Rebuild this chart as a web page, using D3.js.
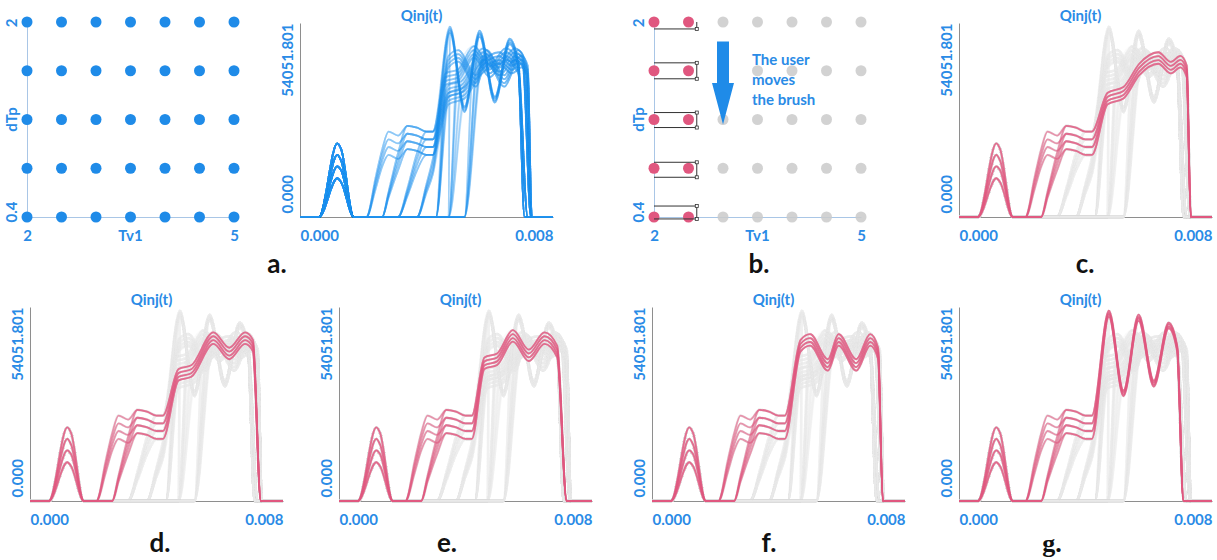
<!DOCTYPE html>
<html>
<head>
<meta charset="utf-8">
<script src="https://cdn.jsdelivr.net/npm/d3@7"></script>
<style>
    body { margin: 0; background: #fff; }
    text { font-family: Lato, "Open Sans", sans-serif; font-weight: bold; }
</style>
</head>
<body>
<svg id="fig" width="1217" height="560"></svg>
<script>
// parameter grid
const tv1Values = [2, 2.5, 3, 3.5, 4, 4.5, 5];
const dtpValues = [0.4, 0.8, 1.2, 1.6, 2];
const tv1Ticks = [2, 5];
const dtpTicks = [0.4, 2];
const timeTicks = [0, 0.008];
const Q_MAX = 54051.801;

// brush (panel b)
const brushedTv1 = [2, 2.5];
const brushTv1Range = [2, 2.62];
const brushDtpRanges = [[1.943, 2.06], [1.534, 1.665], [1.134, 1.257], [0.726, 0.849], [0.384, 0.49]];

// Qinj(t) curves, values in thousands. 4 runs per (Tv1, dTp)
// first pulse, same for every Tv1 / dTp
const tBump = [0, 0.0006, 0.00118, 0.0013, 0.0017];
const bumpRuns = [
    [0, 0, 20.5, 18.9, 0],
    [0, 0, 17.3, 15.7, 0],
    [0, 0, 14.1, 13.0, 0],
    [0, 0, 10.8, 9.7, 0]
];

// plateau, depends on Tv1
const tPlateau = [0.0021, 0.0024, 0.0026, 0.0028, 0.0031, 0.0034, 0.0037, 0.0040, 0.0042];
const plateauTv1_2 = [
    [0, 11.4, 18.9, 23.8, 22.7, 25.4, 24.9, 23.8, 23.8],
    [0, 10.3, 17.3, 21.6, 20.5, 23.2, 22.7, 21.6, 21.6],
    [0, 9.2, 15.7, 19.5, 18.4, 21.1, 20.5, 19.5, 19.5],
    [0, 8.1, 14.1, 17.3, 16.2, 18.9, 18.4, 17.3, 17.3]
];
const plateauTv1_25 = [
    [0, 0, 0, 7.0, 17.8, 25.4, 24.9, 23.8, 23.8],
    [0, 0, 0, 6.5, 16.2, 23.2, 22.7, 21.6, 21.6],
    [0, 0, 0, 5.9, 14.6, 21.1, 20.5, 19.5, 19.5],
    [0, 0, 0, 5.4, 13.0, 18.9, 18.4, 17.3, 17.3]
];
const plateauTv1_3 = [
    [0, 0, 0, 0, 0, 8.1, 17.8, 23.8, 23.8],
    [0, 0, 0, 0, 0, 7.3, 16.2, 21.6, 21.6],
    [0, 0, 0, 0, 0, 6.5, 14.6, 19.5, 19.5],
    [0, 0, 0, 0, 0, 5.9, 13.0, 17.3, 17.3]
];
const plateauTv1_35 = [
    [0, 0, 0, 0, 0, 0, 0, 9.2, 16.2],
    [0, 0, 0, 0, 0, 0, 0, 8.4, 14.6],
    [0, 0, 0, 0, 0, 0, 0, 7.6, 13.0],
    [0, 0, 0, 0, 0, 0, 0, 6.8, 11.9]
];
// Tv1 >= 4 has no plateau, the flow starts late
const lateOnset = [null, null, null, null, 0.0043, 0.0047, 0.0052];

// main injection, depends on dTp
const tLate_04 = [0.00474, 0.0052, 0.00568, 0.00616, 0.00663, 0.0069, 0.0071, 0.008];
const lateDtp_04 = [
    [53.0, 30.8, 51.9, 33.5, 49.7, 43.2, 0, 0],
    [52.4, 30.3, 51.3, 33.0, 49.2, 42.7, 0, 0],
    [51.9, 29.7, 50.8, 32.4, 48.6, 42.2, 0, 0],
    [51.3, 29.2, 50.2, 31.9, 48.1, 41.6, 0, 0]
];
const tLate_08 = [0.0047, 0.0050, 0.00556, 0.0059, 0.00646, 0.0069, 0.00715, 0.0073, 0.008];
const lateDtp_08 = [
    [44.9, 46.5, 39.5, 46.5, 39.5, 46.5, 42.7, 0, 0],
    [43.8, 45.4, 38.4, 45.4, 38.4, 45.4, 41.6, 0, 0],
    [42.7, 44.3, 37.3, 44.3, 37.3, 44.3, 40.5, 0, 0],
    [41.7, 43.3, 36.3, 43.3, 36.3, 43.3, 39.5, 0, 0]
];
const tLate_12 = [0.0046, 0.0050, 0.0055, 0.0060, 0.0065, 0.0069, 0.0072, 0.008];
const lateDtp_12 = [
    [40.0, 41.1, 47.6, 42.2, 47.0, 43.2, 0, 0],
    [38.9, 40.0, 46.5, 41.1, 45.9, 42.1, 0, 0],
    [37.8, 38.9, 45.4, 40.0, 44.8, 41.0, 0, 0],
    [36.8, 37.9, 44.4, 39.0, 43.8, 40.0, 0, 0]
];
const tLate_16 = [0.0047, 0.0051, 0.0058, 0.0063, 0.0068, 0.00705, 0.0073, 0.008];
const lateDtp_16 = [
    [36.8, 37.8, 47.0, 42.7, 47.0, 44.9, 0, 0],
    [35.7, 36.7, 45.9, 41.6, 45.9, 43.8, 0, 0],
    [34.6, 35.6, 44.8, 40.5, 44.8, 42.7, 0, 0],
    [33.6, 34.6, 43.8, 39.5, 43.8, 41.7, 0, 0]
];
const tLate_20 = [0.0047, 0.0052, 0.0057, 0.0063, 0.0067, 0.0070, 0.0072, 0.00733, 0.008];
const lateDtp_20 = [
    [34.6, 36.2, 42.7, 45.9, 43.2, 44.9, 42.2, 0, 0],
    [33.5, 35.1, 41.6, 44.8, 42.1, 43.8, 41.1, 0, 0],
    [32.4, 34.0, 40.5, 43.7, 41.0, 42.7, 40.0, 0, 0],
    [31.4, 33.0, 39.5, 42.7, 40.0, 41.7, 39.0, 0, 0]
];

const plateauByTv1 = [plateauTv1_2, plateauTv1_25, plateauTv1_3, plateauTv1_35, null, null, null];
const lateTimes = [tLate_04, tLate_08, tLate_12, tLate_16, tLate_20];
const lateValues = [lateDtp_04, lateDtp_08, lateDtp_12, lateDtp_16, lateDtp_20];

const blue = "#1f8be8", textBlue = "#2a8be6", pink = "#e0577f";

// put one curve together from its pieces
function buildCurve(ti, di, r) {
    let pts = tBump.map((t, k) => [t, bumpRuns[r][k]]);
    let plat = plateauByTv1[ti];
    let onset = lateOnset[ti];
    if (plat) {
        tPlateau.forEach((t, k) => pts.push([t, plat[r][k]]));
    } else {
        pts.push([onset, 0]);
    }
    lateTimes[di].forEach((t, k) => {
        if (onset === null || t > onset) pts.push([t, lateValues[di][r][k]]);
    });
    return pts;
}

let curves = [];
tv1Values.forEach((tv1, ti) => {
    dtpValues.forEach((dtp, di) => {
        d3.range(4).forEach(r => {
            curves.push({tv1: tv1, dtp: dtp, pts: buildCurve(ti, di, r)});
        });
    });
});

let svg = d3.select('#fig');

// ---------- scatter panels ----------
function scatter(x0, brushed) {
    let sx = d3.scaleLinear().domain([2, 5]).range([x0, x0 + 207]);
    let sy = d3.scaleLinear().domain([0.4, 2]).range([217, 22]);
    let g = svg.append('g');

    let xa = g.append('g').attr('transform', 'translate(0,217)')
        .call(d3.axisBottom(sx).tickValues(tv1Ticks).tickFormat(d3.format('d')).tickSize(0).tickPadding(13).tickSizeOuter(0));
    let ya = g.append('g').attr('transform', `translate(${x0},0)`)
        .call(d3.axisLeft(sy).tickValues(dtpTicks).tickFormat(d => d).tickSize(0).tickSizeOuter(0));
    [xa, ya].forEach(a => {
        a.attr('font-family', null).attr('font-size', null);
        a.select('.domain').attr('stroke', '#a9c6e6');
        a.selectAll('text').attr('fill', textBlue).style('font-size', '15px');
    });
    ya.selectAll('text')
        .attr('transform', 'rotate(-90)')
        .attr('dy', null)
        .attr('y', -10)
        .attr('x', (d, i) => i === 0 ? -5 : 4)
        .attr('text-anchor', (d, i) => i === 0 ? 'start' : 'end');

    g.append('text').attr('x', sx(3.5)).attr('y', 241).attr('text-anchor', 'middle')
        .attr('fill', textBlue).style('font-size', '15px').text('Tv1');
    g.append('text').attr('transform', `translate(${x0 - 10},${sy(1.2)}) rotate(-90)`)
        .attr('text-anchor', 'middle').attr('fill', textBlue).style('font-size', '15px').text('dTp');

    let pts = [];
    dtpValues.forEach(dtp => tv1Values.forEach(tv1 => pts.push({tv1: tv1, dtp: dtp})));
    g.selectAll('circle').data(pts).enter().append('circle')
        .attr('cx', d => sx(d.tv1))
        .attr('cy', d => sy(d.dtp))
        .attr('r', 5.5)
        .attr('fill', d => !brushed ? blue : (brushedTv1.indexOf(d.tv1) >= 0 ? pink : '#cacaca'))
        .attr('opacity', d => (brushed && brushedTv1.indexOf(d.tv1) < 0) ? 0.85 : 1);
    return {sx: sx, sy: sy, g: g};
}

scatter(27, false);
let sb = scatter(654, true);

// brush trail
svg.append('clipPath').attr('id', 'bclip').append('rect')
    .attr('x', 640).attr('y', sb.sy(2)).attr('width', 240).attr('height', 210);
let bg = svg.append('g').attr('clip-path', 'url(#bclip)');
brushDtpRanges.forEach(rg => {
    let x1 = sb.sx(brushTv1Range[0]), x2 = sb.sx(brushTv1Range[1]);
    let yt = sb.sy(rg[1]), yb = sb.sy(rg[0]);
    bg.append('path')
        .attr('d', `M${x1},${yt}H${x2}V${yb}H${x1}`)
        .attr('fill', 'none').attr('stroke', '#333').attr('stroke-width', 1);
    [yt, yb].forEach(yy => {
        bg.append('rect').attr('x', x2 - 1.5).attr('y', yy - 1.5).attr('width', 3).attr('height', 3)
            .attr('fill', '#fff').attr('stroke', '#333').attr('stroke-width', 0.8);
    });
});

// arrow + note
let ax = sb.sx(3), aTop = sb.sy(1.84), aHead = sb.sy(1.5), aTip = sb.sy(1.16);
svg.append('path')
    .attr('d', `M${ax - 6},${aTop}H${ax + 6}V${aHead}H${ax + 11}L${ax},${aTip}L${ax - 11},${aHead}H${ax - 6}Z`)
    .attr('fill', blue);
['The user', 'moves', 'the brush'].forEach((s, i) => {
    svg.append('text').attr('x', sb.sx(3.42)).attr('y', 65 + i * 20)
        .attr('fill', textBlue).style('font-size', '15px').text(s);
});

// ---------- Qinj(t) panels ----------
const W = 253, H = 194;
const linePanels = [
    {x: 300, y: 23, dtp: null},
    {x: 959, y: 23, dtp: 2},
    {x: 30, y: 307, dtp: 1.6},
    {x: 339, y: 307, dtp: 1.2},
    {x: 652, y: 307, dtp: 0.8},
    {x: 959, y: 307, dtp: 0.4}
];

let x = d3.scaleLinear().domain([0, 0.008]).range([0, W]);
let y = d3.scaleLinear().domain([0, Q_MAX / 1000]).range([H, 0]);
let line = d3.line().x(d => x(d[0])).y(d => y(d[1])).curve(d3.curveMonotoneX);

linePanels.forEach(p => {
    let g = svg.append('g').attr('transform', `translate(${p.x},${p.y})`);

    let xa = g.append('g').attr('transform', `translate(0,${H})`)
        .call(d3.axisBottom(x).tickValues(timeTicks).tickFormat(d3.format('.3f')).tickSize(0).tickPadding(13).tickSizeOuter(0));
    let ya = g.append('g')
        .call(d3.axisLeft(y).tickValues([0, Q_MAX / 1000]).tickFormat(d => d3.format('.3f')(d * 1000)).tickSize(0).tickSizeOuter(0));
    [xa, ya].forEach(a => {
        a.attr('font-family', null).attr('font-size', null);
        a.select('.domain').attr('stroke', '#8e8e8e');
        a.selectAll('text').attr('fill', textBlue).style('font-size', '15px');
    });
    xa.selectAll('text').attr('text-anchor', (d, i) => i === 0 ? 'start' : 'end');
    ya.selectAll('text')
        .attr('transform', 'rotate(-90)')
        .attr('dy', null)
        .attr('y', -7)
        .attr('x', (d, i) => i === 0 ? 4 : 0)
        .attr('text-anchor', (d, i) => i === 0 ? 'start' : 'end');

    g.append('text').attr('x', W / 2 - 5).attr('y', -2).attr('text-anchor', 'middle')
        .attr('fill', textBlue).style('font-size', '15px').text('Qinj(t)');

    if (p.dtp === null) {
        g.selectAll('path.c').data(curves).enter().append('path')
            .attr('class', 'c').attr('d', d => line(d.pts))
            .attr('fill', 'none').attr('stroke', '#2196f3').attr('stroke-opacity', 0.13).attr('stroke-width', 1.8);
    } else {
        let isSel = d => d.dtp === p.dtp && brushedTv1.indexOf(d.tv1) >= 0;
        g.selectAll('path.o').data(curves.filter(d => !isSel(d))).enter().append('path')
            .attr('class', 'o').attr('d', d => line(d.pts))
            .attr('fill', 'none').attr('stroke', '#e6e6e6').attr('stroke-opacity', 0.22).attr('stroke-width', 2.5);
        g.selectAll('path.s').data(curves.filter(isSel)).enter().append('path')
            .attr('class', 's').attr('d', d => line(d.pts))
            .attr('fill', 'none').attr('stroke', pink).attr('stroke-opacity', 0.6).attr('stroke-width', 1.8);
    }
});

// sub-figure letters
const letters = [['a.', 277, 273], ['b.', 759, 273], ['c.', 1085, 273], ['d.', 160, 552], ['e.', 447, 552], ['f.', 769, 552], ['g.', 1052, 552]];
svg.selectAll('text.lab').data(letters).enter().append('text')
    .attr('class', 'lab')
    .attr('x', d => d[1]).attr('y', d => d[2])
    .attr('text-anchor', 'middle')
    .style('font-size', '26px')
    .style('font-family', d => d[0] === 'g.' ? '"Liberation Serif", serif' : null)
    .attr('fill', '#111')
    .text(d => d[0]);
</script>
</body>
</html>
